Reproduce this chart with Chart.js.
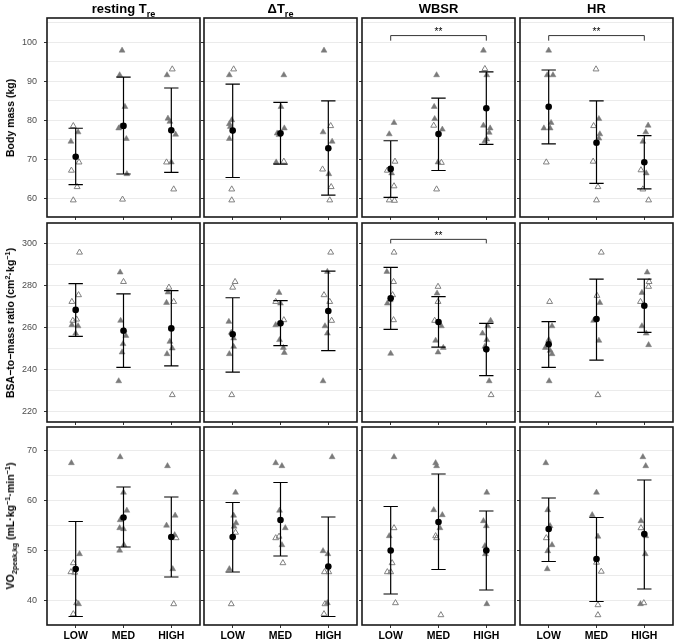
<!DOCTYPE html>
<html>
<head>
<meta charset="utf-8">
<script src="https://cdn.jsdelivr.net/npm/chart.js@4.4.0/dist/chart.umd.min.js"></script>
<style>
  body { margin: 0; background: #fff; }
  #wrap { position: relative; width: 677px; height: 644px; overflow: hidden; font-family: "Liberation Sans", Arial, sans-serif; }
  #wrap canvas { position: absolute; }
  .strip { position: absolute; top: 0px; height: 17px; line-height: 17px; text-align: center; font-weight: bold; font-size: 13px; color: #000; white-space: nowrap; }
  .ytitle { position: absolute; font-weight: bold; font-size: 10.5px; color: #000; white-space: nowrap; transform: translate(-50%, -50%) rotate(-90deg); line-height: 12px; }
  sub, sup { font-size: 70%; line-height: 0; }
</style>
</head>
<body>
<div id="wrap"></div>
<script>
// groups on the x axis and the facet columns
const categories = ['LOW', 'MED', 'HIGH'];
const factors = ['resting T<sub>re</sub>', '\u0394T<sub>re</sub>', 'WBSR', 'HR'];

// Body mass (kg): [x (group + jitter), value] per facet column
const massFilled = [
    [[1.05,77.0],[0.90,74.6],[1.97,97.9],[1.92,91.6],[2.03,83.5],[1.94,78.4],[1.90,78.0],[2.06,75.3],[2.07,66.3],[2.91,91.6],[2.93,80.5],[2.97,79.7],[3.09,76.4],[3.00,69.3]],
    [[0.93,91.6],[0.98,80.1],[0.93,79.1],[0.95,78.4],[0.93,75.3],[2.07,91.6],[2.01,83.5],[2.08,78.0],[1.93,76.7],[1.97,76.3],[1.91,69.3],[2.91,97.9],[2.89,77.0],[3.08,74.6],[3.01,66.3]],
    [[1.07,79.4],[0.97,76.5],[1.02,66.5],[1.96,91.6],[1.91,83.5],[1.92,80.4],[2.08,77.7],[1.99,69.3],[2.94,97.9],[3.01,91.6],[2.94,78.7],[3.08,78.0],[3.06,76.9],[3.01,75.2],[2.97,74.7]],
    [[1.00,97.9],[0.97,91.6],[1.09,91.6],[1.05,79.4],[0.90,78.0],[1.03,78.0],[2.05,80.4],[2.07,76.5],[2.05,75.4],[3.08,78.7],[3.03,77.0],[2.97,74.6],[3.04,66.5]]
];
const massOpen = [
    [[0.95,78.6],[1.07,69.3],[0.91,67.2],[1.03,63.0],[0.95,59.6],[1.98,59.8],[3.02,93.1],[2.90,69.3],[3.05,62.4]],
    [[1.02,93.1],[0.98,62.4],[0.98,59.6],[2.07,69.5],[3.05,78.6],[2.88,67.5],[3.06,63.0],[3.03,59.6]],
    [[1.09,69.5],[0.93,67.2],[1.07,63.2],[0.97,59.6],[1.08,59.5],[1.90,78.7],[2.06,69.2],[1.96,62.4],[2.97,93.2]],
    [[0.95,69.3],[1.99,93.1],[1.94,78.6],[1.93,69.5],[2.03,63.0],[2.00,59.6],[2.93,67.3],[2.97,62.4],[3.09,59.6]]
];
const massMean = [[70.7,78.6,77.5],[77.4,76.7,72.9],[67.6,76.5,83.1],[83.5,74.3,69.3]];
const massLo   = [[63.6,66.3,66.7],[65.4,68.8,60.9],[60.3,67.2,73.9],[74.0,63.9,62.5]];
const massHi   = [[78.0,91.1,88.3],[89.3,84.6,85.0],[74.8,85.7,92.4],[92.9,85.0,76.1]];

// BSA-to-mass ratio (cm2/kg)
const bsaFilled = [
    [[0.92,261.1],[1.05,260.6],[1.00,257.1],[1.93,286.2],[1.94,263.2],[2.01,258.7],[2.05,256.0],[1.99,252.1],[1.97,248.1],[1.90,234.4],[2.93,276.7],[2.90,271.7],[2.97,253.2],[3.02,250.0],[2.91,247.3]],
    [[0.92,262.7],[0.97,257.5],[1.02,254.8],[1.02,250.8],[0.93,247.3],[1.97,276.5],[2.00,271.4],[1.90,261.1],[1.98,254.0],[2.06,250.3],[2.08,247.9],[2.98,286.5],[2.93,260.6],[2.98,257.1],[2.89,234.4]],
    [[0.92,286.5],[0.99,273.0],[0.93,271.4],[1.00,247.5],[1.97,276.2],[2.06,260.6],[1.94,253.7],[2.10,250.3],[1.99,248.1],[3.09,263.2],[3.03,260.6],[2.92,257.1],[3.01,254.0],[2.97,250.8],[3.06,234.4]],
    [[1.07,260.6],[1.00,254.0],[0.93,250.3],[1.03,248.9],[1.07,247.3],[1.01,234.4],[2.07,271.7],[1.94,263.2],[2.05,253.7],[3.06,286.2],[2.95,276.5],[2.95,260.6],[3.04,257.1],[3.09,251.6]]
];
const bsaOpen = [
    [[1.08,295.7],[1.06,275.4],[0.92,272.2],[1.02,263.8],[0.94,263.2],[2.00,281.7],[2.95,279.0],[3.05,272.2],[3.02,227.8]],
    [[1.05,281.7],[1.00,279.0],[0.98,227.8],[1.90,272.2],[2.07,263.5],[3.05,295.7],[2.91,275.4],[3.03,272.2],[3.07,263.2]],
    [[1.07,295.7],[1.06,281.7],[1.04,275.4],[1.06,263.5],[1.99,279.4],[1.99,272.2],[1.92,263.2],[3.10,227.8]],
    [[1.02,272.2],[2.10,295.7],[2.01,275.1],[2.03,227.8],[3.10,281.7],[3.09,279.4],[2.92,272.2]]
];
const bsaMean = [[268.3,258.4,259.5],[256.7,261.9,267.8],[273.8,262.5,249.5],[251.9,264.0,270.3]];
const bsaLo   = [[255.7,240.9,241.6],[238.7,251.3,248.9],[259.0,250.6,237.0],[240.9,244.4,257.6]];
const bsaHi   = [[280.8,275.9,277.5],[274.1,272.7,286.8],[288.6,274.6,261.9],[262.7,283.0,283.0]];

// VO2peak,kg (mL/kg/min)
const vo2Filled = [
    [[0.91,67.5],[1.08,49.3],[1.06,39.3],[1.93,68.7],[2.00,61.6],[2.07,58.0],[1.93,56.1],[1.92,54.5],[2.00,54.3],[2.01,51.1],[1.92,50.0],[2.92,66.9],[3.08,57.0],[2.90,55.0],[3.07,53.1],[3.03,46.3]],
    [[1.06,61.6],[1.02,57.0],[1.07,55.5],[1.03,54.8],[0.93,46.3],[1.90,67.5],[2.03,66.9],[1.98,58.0],[2.10,54.5],[2.03,51.1],[3.08,68.7],[2.89,49.9],[2.99,49.3],[2.98,39.5]],
    [[1.07,68.7],[0.97,52.9],[1.94,67.5],[1.96,66.9],[1.90,58.1],[2.08,57.1],[2.03,54.5],[3.01,61.6],[2.94,55.9],[3.00,54.9],[2.97,50.9],[2.98,49.3],[3.01,39.3]],
    [[0.94,67.5],[0.98,58.1],[1.03,54.9],[1.07,51.1],[0.98,49.9],[0.97,46.3],[2.00,61.6],[1.91,57.1],[2.03,52.8],[2.97,68.7],[3.03,66.9],[2.93,55.9],[3.03,52.9],[3.02,49.3],[2.92,39.3]]
];
const vo2Open = [
    [[0.95,47.5],[0.90,45.7],[0.98,45.6],[1.02,39.5],[0.95,37.3],[3.10,52.5],[3.05,39.3]],
    [[1.06,53.6],[0.97,39.3],[1.90,52.5],[1.97,52.8],[2.05,47.5],[2.92,45.7],[3.01,45.7],[2.93,39.3],[2.91,37.3]],
    [[1.07,54.5],[1.03,47.5],[0.93,45.7],[1.00,45.7],[1.10,39.5],[1.94,52.9],[1.96,52.5],[2.05,37.1]],
    [[0.95,52.5],[2.00,47.6],[2.10,45.8],[2.03,39.1],[2.03,37.1],[2.93,54.5],[2.99,39.5]]
];
const vo2Mean = [[46.3,56.6,52.7],[52.7,56.1,46.8],[50.0,55.7,50.0],[54.3,48.3,53.3]];
const vo2Lo   = [[36.8,50.7,44.7],[45.7,48.9,36.8],[41.3,46.2,42.1],[47.8,39.8,42.3]];
const vo2Hi   = [[55.8,62.7,60.7],[59.6,63.6,56.7],[58.8,65.3,57.9],[60.5,56.6,64.1]];

// significance brackets: row, column, from group, to group, bracket level, tip level
const brackets = [
    [0, 2, 1, 3, 101.7, 100.4, '**'],
    [0, 3, 1, 3, 101.7, 100.4, '**'],
    [1, 2, 1, 3, 301.9, 300.0, '**']
];

const rows = [
    { title: 'Body mass (kg)', filled: massFilled, open: massOpen, mean: massMean, lo: massLo, hi: massHi,
      min: 55.3, max: 106.2, step: 5, major: 10 },
    { title: 'BSA\u2212to\u2212mass ratio (cm<sup>2</sup>\u00b7kg<sup>\u22121</sup>)', filled: bsaFilled, open: bsaOpen, mean: bsaMean, lo: bsaLo, hi: bsaHi,
      min: 214.9, max: 309.7, step: 10, major: 20 },
    { title: 'VO<sub>2peak,kg</sub> (mL\u00b7kg<sup>\u22121</sup>\u00b7min<sup>\u22121</sup>)', filled: vo2Filled, open: vo2Open, mean: vo2Mean, lo: vo2Lo, hi: vo2Hi,
      min: 35.1, max: 74.7, step: 5, major: 10 }
];

// panel geometry (px)
const PANEL_LEFT = [47, 204, 362, 520];
const PANEL_W = 153;
const PANEL_TOP = [18, 223, 427];
const PANEL_H = [199, 199, 198];

const wrap = document.getElementById('wrap');

function gridValues(r) {
    const out = [];
    for (let v = Math.ceil(r.min / r.step) * r.step; v <= r.max; v += r.step) out.push(v);
    return out;
}

function panelPlugin(row, col) {
    const r = rows[row];
    return {
        id: 'panelExtras',
        beforeDatasetDraw(chart, args) {
            if (args.index !== 0) return;
            // error bars, drawn under the mean points
            const xs = chart.scales.x, ys = chart.scales.y;
            const ctx = chart.ctx;
            ctx.save();
            ctx.strokeStyle = '#000';
            ctx.lineWidth = 1.2;
            categories.forEach((c, i) => {
                const x = xs.getPixelForValue(i + 1);
                const hw = xs.getPixelForValue(i + 1.15) - x;
                const yl = ys.getPixelForValue(r.lo[col][i]);
                const yh = ys.getPixelForValue(r.hi[col][i]);
                ctx.beginPath();
                ctx.moveTo(x, yl); ctx.lineTo(x, yh);
                ctx.moveTo(x - hw, yl); ctx.lineTo(x + hw, yl);
                ctx.moveTo(x - hw, yh); ctx.lineTo(x + hw, yh);
                ctx.stroke();
            });
            ctx.restore();
        },
        afterDatasetsDraw(chart) {
            const xs = chart.scales.x, ys = chart.scales.y;
            const ctx = chart.ctx;
            ctx.save();
            brackets.filter(b => b[0] === row && b[1] === col).forEach(b => {
                const x1 = xs.getPixelForValue(b[2]);
                const x2 = xs.getPixelForValue(b[3]);
                const y = ys.getPixelForValue(b[4]);
                const yt = ys.getPixelForValue(b[5]);
                ctx.strokeStyle = '#000';
                ctx.lineWidth = 0.8;
                ctx.beginPath();
                ctx.moveTo(x1, yt); ctx.lineTo(x1, y); ctx.lineTo(x2, y); ctx.lineTo(x2, yt);
                ctx.stroke();
                ctx.fillStyle = '#000';
                ctx.font = '10px "Liberation Sans", Arial, sans-serif';
                ctx.textAlign = 'center';
                ctx.textBaseline = 'alphabetic';
                ctx.fillText(b[6], (x1 + x2) / 2, y - 0.5);
            });
            // panel border
            const a = chart.chartArea;
            ctx.strokeStyle = '#1a1a1a';
            ctx.lineWidth = 1.6;
            ctx.strokeRect(a.left, a.top, a.right - a.left, a.bottom - a.top);
            ctx.restore();
        }
    };
}

rows.forEach((r, row) => {
    const ticks = gridValues(r);
    factors.forEach((f, col) => {
        const L = col === 0 ? 47 : 5;
        const B = row === rows.length - 1 ? 19 : 5;
        const canvas = document.createElement('canvas');
        const w = L + PANEL_W + 1;
        const h = 1 + PANEL_H[row] + B;
        canvas.width = w; canvas.height = h;
        canvas.style.left = (PANEL_LEFT[col] - L) + 'px';
        canvas.style.top = (PANEL_TOP[row] - 1) + 'px';
        canvas.style.width = w + 'px'; canvas.style.height = h + 'px';
        wrap.appendChild(canvas);

        new Chart(canvas, {
            type: 'scatter',
            data: {
                datasets: [
                    {
                        label: 'mean',
                        data: categories.map((c, i) => ({ x: i + 1, y: r.mean[col][i] })),
                        pointStyle: 'circle',
                        pointRadius: 3.3,
                        backgroundColor: '#000',
                        borderColor: '#000',
                        borderWidth: 0
                    },
                    {
                        label: 'filled',
                        data: r.filled[col].map(p => ({ x: p[0], y: p[1] })),
                        pointStyle: 'triangle',
                        pointRadius: 3.4,
                        backgroundColor: '#7a7a7a',
                        borderColor: '#7a7a7a',
                        borderWidth: 0.5
                    },
                    {
                        label: 'open',
                        data: r.open[col].map(p => ({ x: p[0], y: p[1] })),
                        pointStyle: 'triangle',
                        pointRadius: 3.4,
                        backgroundColor: 'rgba(255,255,255,0)',
                        borderColor: '#808080',
                        borderWidth: 1
                    }
                ]
            },
            options: {
                responsive: false,
                animation: false,
                devicePixelRatio: 1,
                layout: { autoPadding: false, padding: { top: 1, right: 1, left: 0, bottom: 0 } },
                plugins: { legend: { display: false }, tooltip: { enabled: false } },
                scales: {
                    x: {
                        type: 'linear',
                        min: 0.4,
                        max: 3.6,
                        afterBuildTicks: s => { s.ticks = categories.map((c, i) => ({ value: i + 1 })); },
                        afterFit: s => { s.height = B; s.paddingLeft = 0; s.paddingRight = 0; },
                        border: { display: false },
                        grid: { drawOnChartArea: false, drawTicks: true, tickLength: 3, tickColor: '#333', tickWidth: 1 },
                        ticks: {
                            display: row === rows.length - 1,
                            padding: 2,
                            color: '#000',
                            maxRotation: 0,
                            font: { family: '"Liberation Sans", Arial, sans-serif', size: 10.5, weight: 'bold' },
                            callback: v => categories[v - 1]
                        }
                    },
                    y: {
                        min: r.min,
                        max: r.max,
                        afterBuildTicks: s => { s.ticks = ticks.map(v => ({ value: v })); },
                        afterFit: s => { s.width = L; s.paddingTop = 0; s.paddingBottom = 0; },
                        border: { display: false },
                        grid: {
                            color: '#ebebeb',
                            lineWidth: 1,
                            drawTicks: true,
                            tickLength: 3,
                            tickColor: c => (c.tick && c.tick.value % r.major === 0) ? '#333' : 'rgba(0,0,0,0)'
                        },
                        ticks: {
                            display: col === 0,
                            padding: 7,
                            color: '#4d4d4d',
                            font: { family: '"Liberation Sans", Arial, sans-serif', size: 9 },
                            callback: v => (v % r.major === 0 ? String(v) : '')
                        }
                    }
                }
            },
            plugins: [panelPlugin(row, col)]
        });
    });

    // rotated axis title
    const t = document.createElement('div');
    t.className = 'ytitle';
    t.innerHTML = r.title;
    t.style.left = '10px';
    t.style.top = (PANEL_TOP[row] + PANEL_H[row] / 2) + 'px';
    wrap.appendChild(t);
});

factors.forEach((f, col) => {
    const s = document.createElement('div');
    s.className = 'strip';
    s.innerHTML = f;
    s.style.left = PANEL_LEFT[col] + 'px';
    s.style.width = PANEL_W + 'px';
    wrap.appendChild(s);
});
</script>
</body>
</html>
